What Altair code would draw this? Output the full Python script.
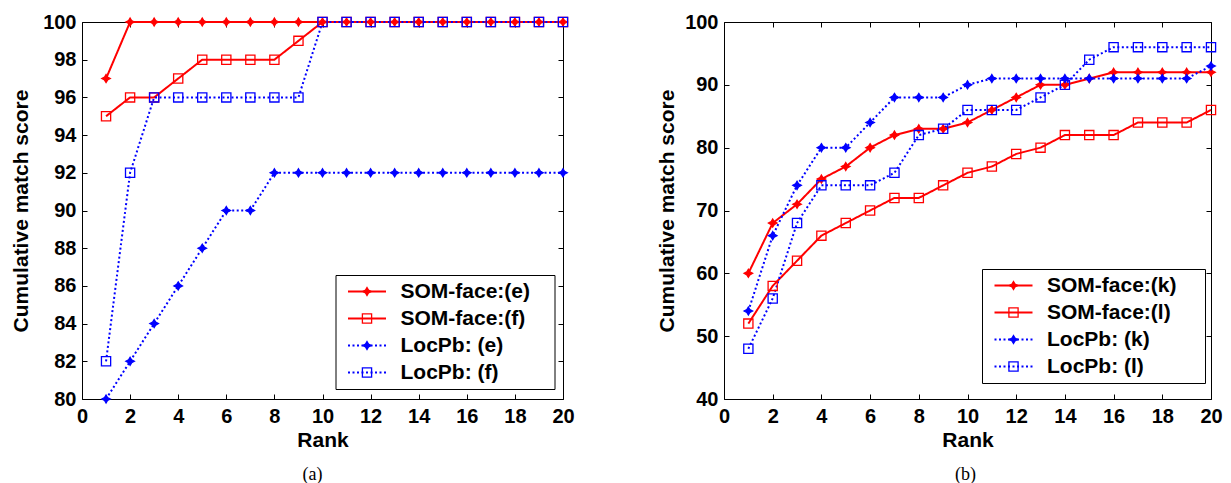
import altair as alt
import pandas as pd

FONT = "Liberation Sans"
SERIF = "Liberation Serif"

ranks = [1, 2, 3, 4, 5, 6, 7, 8, 9, 10, 11, 12, 13, 14, 15, 16, 17, 18, 19, 20]
x_ticks = [0, 2, 4, 6, 8, 10, 12, 14, 16, 18, 20]

# ---- panel (a)
a_names = ["SOM-face:(e)", "SOM-face:(f)", "LocPb: (e)", "LocPb: (f)"]
a_som_e = [97, 100, 100, 100, 100, 100, 100, 100, 100, 100, 100, 100, 100, 100, 100, 100, 100, 100, 100, 100]
a_som_f = [95, 96, 96, 97, 98, 98, 98, 98, 99, 100, 100, 100, 100, 100, 100, 100, 100, 100, 100, 100]
a_loc_e = [80, 82, 84, 86, 88, 90, 90, 92, 92, 92, 92, 92, 92, 92, 92, 92, 92, 92, 92, 92]
a_loc_f = [82, 92, 96, 96, 96, 96, 96, 96, 96, 100, 100, 100, 100, 100, 100, 100, 100, 100, 100, 100]
a_y_domain = [80, 100]
a_y_ticks = [80, 82, 84, 86, 88, 90, 92, 94, 96, 98, 100]

# ---- panel (b)
b_names = ["SOM-face:(k)", "SOM-face:(l)", "LocPb: (k)", "LocPb: (l)"]
b_som_k = [60, 68, 71, 75, 77, 80, 82, 83, 83, 84, 86, 88, 90, 90, 91, 92, 92, 92, 92, 92]
b_som_l = [52, 58, 62, 66, 68, 70, 72, 72, 74, 76, 77, 79, 80, 82, 82, 82, 84, 84, 84, 86]
b_loc_k = [54, 66, 74, 80, 80, 84, 88, 88, 88, 90, 91, 91, 91, 91, 91, 91, 91, 91, 91, 93]
b_loc_l = [48, 56, 68, 74, 74, 74, 76, 82, 83, 86, 86, 86, 88, 90, 94, 96, 96, 96, 96, 96]
b_y_domain = [40, 100]
b_y_ticks = [40, 50, 60, 70, 80, 90, 100]

RED = "#ff0000"
BLUE = "#0000ff"
line_colors = [RED, RED, BLUE, BLUE]
line_dashes = [[1, 0], [1, 0], [2, 2.5], [2, 2.5]]
STAR = "M0,-0.8L0.3,-0.3L0.85,0L0.3,0.3L0,0.8L-0.3,0.3L-0.85,0L-0.3,-0.3Z"
SQUARE = "M-0.92,-0.92H0.92V0.92H-0.92Z"
marker_shapes = [STAR, SQUARE, STAR, SQUARE]
marker_fills = [RED, "transparent", BLUE, "transparent"]
marker_keys = ["m0", "m1", "m2", "m3"]


def axis_common():
    return dict(
        labelFont=FONT, labelFontSize=20, labelFontWeight="bold", labelColor="black",
        titleFont=FONT, titleFontSize=21, titleFontWeight="bold", titleColor="black",
        domain=False, grid=False, tickColor="black", tickWidth=1, tickSize=5,
        offset=-5, labelOverlap=False, labelFlush=False,
    )


def legend_common(lx, ly):
    return dict(
        title=None, orient="none", legendX=lx, legendY=ly, direction="vertical",
        symbolSize=100, symbolOffset=15, padding=6, rowPadding=5,
        labelFont=FONT, labelFontSize=21, labelFontWeight="bold", labelColor="black",
        labelLimit=400, symbolOpacity=1,
    )


def panel(names, series, y_domain, y_ticks, width, lx, ly, box_w, caption, cap_dx, title_pad):
    rows = []
    for name, key, vals in zip(names, marker_keys, series):
        for r, v in zip(ranks, vals):
            rows.append({"rank": r, "score": v, "series": name, "marker": key})
    df = pd.DataFrame(rows)

    x_scale = alt.Scale(domain=[0, 20], nice=False, zero=False)
    y_scale = alt.Scale(domain=y_domain, nice=False, zero=False)

    # visible legend: dashed/solid strokes with the series names
    line_legend = alt.Legend(
        symbolType="M-3.8,0H3.8", symbolStrokeWidth=2, labelOffset=23,
        **legend_common(lx, ly)
    )
    # overlay legend: the markers, plus the frame (its blank label sets the frame width)
    mark_legend = alt.Legend(
        symbolStrokeWidth=1.3, labelExpr="'\u00a0'", labelOffset=box_w - 46.5,
        strokeColor="black", zindex=2, **legend_common(lx, ly)
    )

    lines = alt.Chart(df).mark_line(strokeWidth=2).encode(
        x=alt.X("rank:Q", scale=x_scale,
                axis=alt.Axis(orient="bottom", values=x_ticks, title="Rank",
                              labelPadding=7, titlePadding=3, **axis_common())),
        y=alt.Y("score:Q", scale=y_scale,
                axis=alt.Axis(orient="left", values=y_ticks, title="Cumulative match score",
                              labelPadding=6, titlePadding=title_pad, **axis_common())),
        color=alt.Color("series:N", scale=alt.Scale(domain=names, range=line_colors), legend=line_legend),
        strokeDash=alt.StrokeDash("series:N", scale=alt.Scale(domain=names, range=line_dashes), legend=line_legend),
    )

    points = alt.Chart(df).mark_point(size=100, strokeWidth=1.3, opacity=1).encode(
        x=alt.X("rank:Q", scale=x_scale,
                axis=alt.Axis(orient="top", values=x_ticks, labels=False, title=None, **axis_common())),
        y=alt.Y("score:Q", scale=y_scale,
                axis=alt.Axis(orient="right", values=y_ticks, labels=False, title=None, **axis_common())),
        shape=alt.Shape("marker:N", scale=alt.Scale(domain=marker_keys, range=marker_shapes), legend=mark_legend),
        stroke=alt.Stroke("marker:N", scale=alt.Scale(domain=marker_keys, range=line_colors), legend=mark_legend),
        fill=alt.Fill("marker:N", scale=alt.Scale(domain=marker_keys, range=marker_fills), legend=mark_legend),
    )

    return alt.layer(lines, points).resolve_axis(x="independent", y="independent").properties(
        width=width, height=377,
        title=alt.TitleParams(caption, orient="bottom", anchor="middle", frame="group",
                              font=SERIF, fontSize=18, fontWeight="normal", color="black",
                              offset=16, dx=cap_dx),
    )


left = panel(a_names, [a_som_e, a_som_f, a_loc_e, a_loc_f], a_y_domain, a_y_ticks,
             481, 253.5, 253, 217.5, "(a)", -10, 11)
right = panel(b_names, [b_som_k, b_som_l, b_loc_k, b_loc_l], b_y_domain, b_y_ticks,
              487, 258, 247, 221, "(b)", -2, 7)

chart = alt.hconcat(left, right, spacing=81).resolve_scale(
    x="independent", y="independent", color="independent", strokeDash="independent",
    shape="independent", stroke="independent", fill="independent",
).resolve_legend(
    color="independent", strokeDash="independent", shape="independent",
    stroke="independent", fill="independent",
).properties(
    padding={"left": 10, "top": 11, "right": 0, "bottom": 0},
    background="white",
).configure_view(stroke="black", strokeWidth=1)

chart.save("out.html", embed_options={"renderer": "svg", "actions": False})
